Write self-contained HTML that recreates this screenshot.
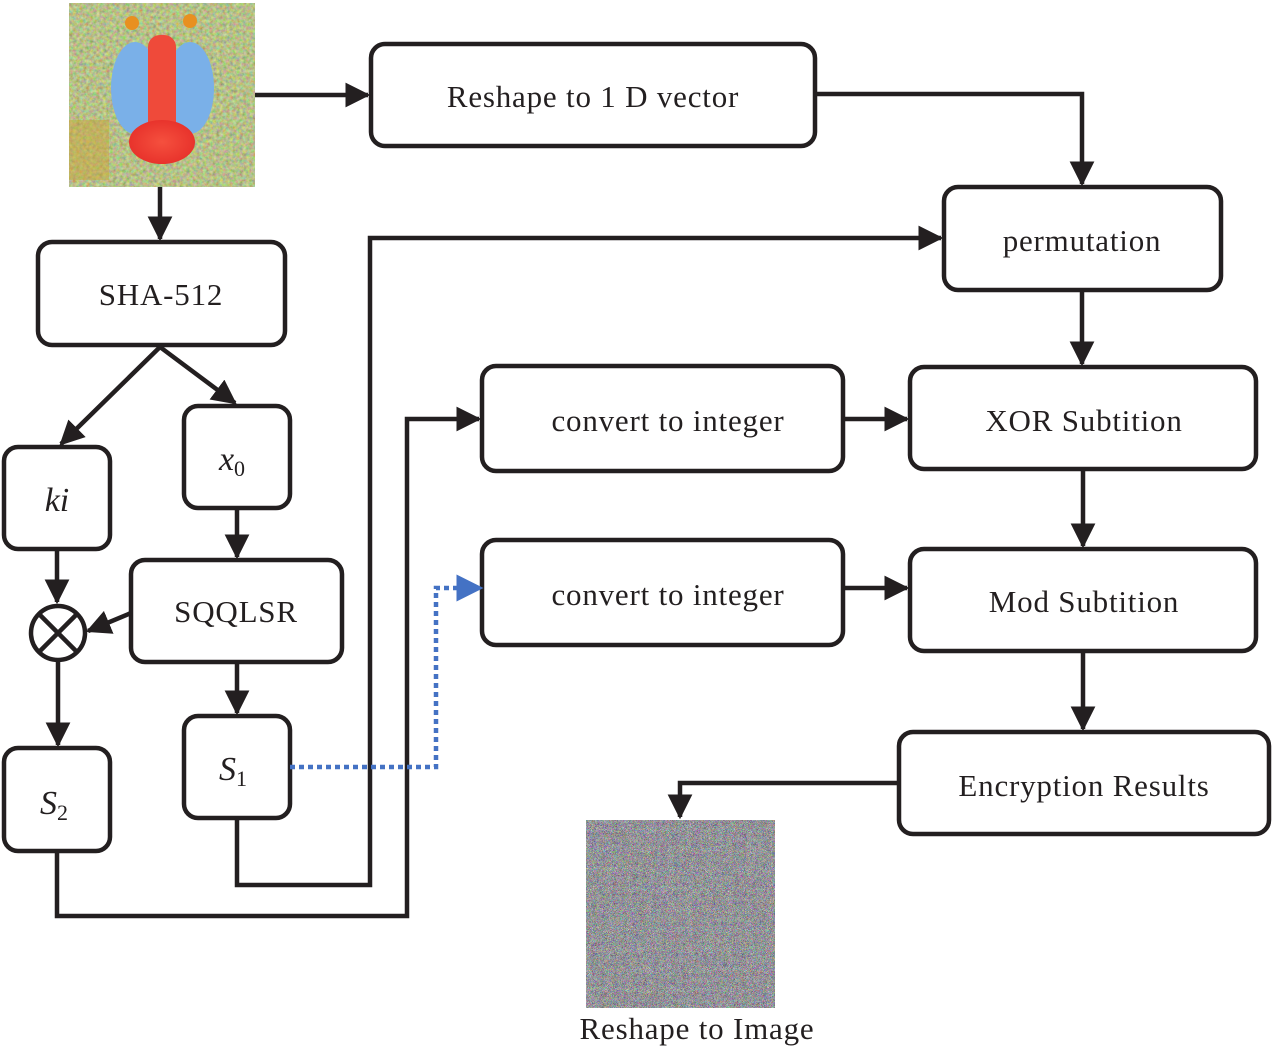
<!DOCTYPE html>
<html><head><meta charset="utf-8"><style>
html,body{margin:0;padding:0;background:#fff}
svg{display:block}
text{font-family:"Liberation Serif",serif;fill:#231f20}
</style></head><body>
<svg width="1274" height="1049" viewBox="0 0 1274 1049" xmlns="http://www.w3.org/2000/svg">
<defs>
<marker id="ah" markerWidth="5.5" markerHeight="5.5" refX="5" refY="2.75" orient="auto" markerUnits="strokeWidth">
<path d="M0,0 L5.5,2.75 L0,5.5 z" fill="#231f20"/></marker>
<marker id="bh" markerWidth="6" markerHeight="6" refX="5" refY="3" orient="auto" markerUnits="strokeWidth">
<path d="M0,0 L6,3 L0,6 z" fill="#4472c4"/></marker>
<filter id="noise" x="0" y="0" width="100%" height="100%">
<feTurbulence type="turbulence" baseFrequency="0.95" numOctaves="1" seed="3"/>
<feColorMatrix type="matrix" values="1.3 0 0 0 0.1  0 1.3 0 0 0.1  0 0 1.3 0 0.12  0 0 0 0 1"/>
</filter>
<filter id="fur" x="0" y="0" width="100%" height="100%">
<feTurbulence type="fractalNoise" baseFrequency="0.3" numOctaves="3" seed="7"/>
<feColorMatrix type="matrix" values="0.7 0 0 0 0.12  0 0.7 0 0 0.18  0 0 0.5 0 0.0  0 0 0 0 1"/>
</filter>
<radialGradient id="nose" cx="0.5" cy="0.5" r="0.5"><stop offset="0" stop-color="#f5503e"/><stop offset="1" stop-color="#e8332c"/></radialGradient>
</defs>
<!-- baboon -->
<rect x="69" y="3" width="186" height="184" filter="url(#fur)"/>
<rect x="69" y="120" width="40" height="60" fill="#c9a43a" opacity="0.5"/>
<ellipse cx="135" cy="88" rx="24" ry="46" fill="#7ab0e8"/>
<ellipse cx="190" cy="88" rx="24" ry="46" fill="#7ab0e8"/>
<rect x="148" y="35" width="28" height="100" rx="12" fill="#ef4a3a"/>
<ellipse cx="162" cy="142" rx="33" ry="22" fill="url(#nose)"/>
<circle cx="132" cy="23" r="7" fill="#e89020"/>
<circle cx="190" cy="21" r="7" fill="#e89020"/>
<g fill="none" stroke="#231f20" stroke-width="4.5">
<rect x="371" y="44" width="444" height="102" rx="14"/>
<rect x="944" y="187" width="277" height="103" rx="14"/>
<rect x="38" y="242" width="247" height="103" rx="14"/>
<rect x="4" y="447" width="106" height="102" rx="14"/>
<rect x="184" y="406" width="106" height="102" rx="14"/>
<rect x="131" y="560" width="211" height="102" rx="14"/>
<rect x="4" y="748" width="106" height="103" rx="14"/>
<rect x="184" y="716" width="106" height="102" rx="14"/>
<rect x="482" y="366" width="361" height="105" rx="14"/>
<rect x="482" y="540" width="361" height="105" rx="14"/>
<rect x="910" y="367" width="346" height="102" rx="14"/>
<rect x="910" y="549" width="346" height="102" rx="14"/>
<rect x="899" y="732" width="370" height="102" rx="14"/>
<circle cx="58" cy="633" r="27"/>
<line x1="39" y1="614" x2="77" y2="652"/><line x1="77" y1="614" x2="39" y2="652"/>
</g>
<g fill="none" stroke="#231f20" stroke-width="4.5" marker-end="url(#ah)">
<line x1="255" y1="95" x2="368" y2="95"/>
<polyline points="815,94 1082,94 1082,184"/>
<line x1="160" y1="187" x2="160" y2="239"/>
<line x1="160" y1="347" x2="61" y2="444"/>
<line x1="160" y1="347" x2="235" y2="403"/>
<line x1="237" y1="508" x2="237" y2="557"/>
<line x1="57" y1="549" x2="57" y2="602"/>
<line x1="131" y1="613" x2="88" y2="631"/>
<line x1="58" y1="661" x2="58" y2="745"/>
<line x1="237" y1="662" x2="237" y2="713"/>
<polyline points="237,818 237,885 370,885 370,238 941,238"/>
<polyline points="57,851 57,916 407,916 407,419 479,419"/>
<line x1="1082" y1="290" x2="1082" y2="364"/>
<line x1="843" y1="419" x2="907" y2="419"/>
<line x1="1083" y1="469" x2="1083" y2="546"/>
<line x1="843" y1="588" x2="907" y2="588"/>
<line x1="1083" y1="651" x2="1083" y2="729"/>
<polyline points="899,783 680,783 680,817"/>
</g>
<polyline points="290,767 436,767 436,588 479,588" fill="none" stroke="#4472c4" stroke-width="4.5" stroke-dasharray="5,4" marker-end="url(#bh)"/>
<rect x="586" y="820" width="189" height="188" filter="url(#noise)"/>
<g font-size="31" text-anchor="middle" letter-spacing="0.8">
<text x="593" y="107">Reshape to 1 D vector</text>
<text x="1082" y="251">permutation</text>
<text x="161" y="305">SHA-512</text>
<text x="236" y="622">SQQLSR</text>
<text x="668" y="431">convert to integer</text>
<text x="668" y="605">convert to integer</text>
<text x="1084" y="431">XOR Subtition</text>
<text x="1084" y="612">Mod Subtition</text>
<text x="1084" y="796">Encryption Results</text>
<text x="697" y="1039">Reshape to Image</text>
</g>
<g font-size="34" text-anchor="middle">
<text x="57" y="511" font-style="italic">ki</text>
<text x="232" y="470" font-style="italic">x<tspan font-style="normal" font-size="22" dy="6">0</tspan></text>
<text x="233" y="780" font-style="italic">S<tspan font-style="normal" font-size="22" dy="6">1</tspan></text>
<text x="54" y="814" font-style="italic">S<tspan font-style="normal" font-size="22" dy="6">2</tspan></text>
</g>
</svg>
</body></html>
